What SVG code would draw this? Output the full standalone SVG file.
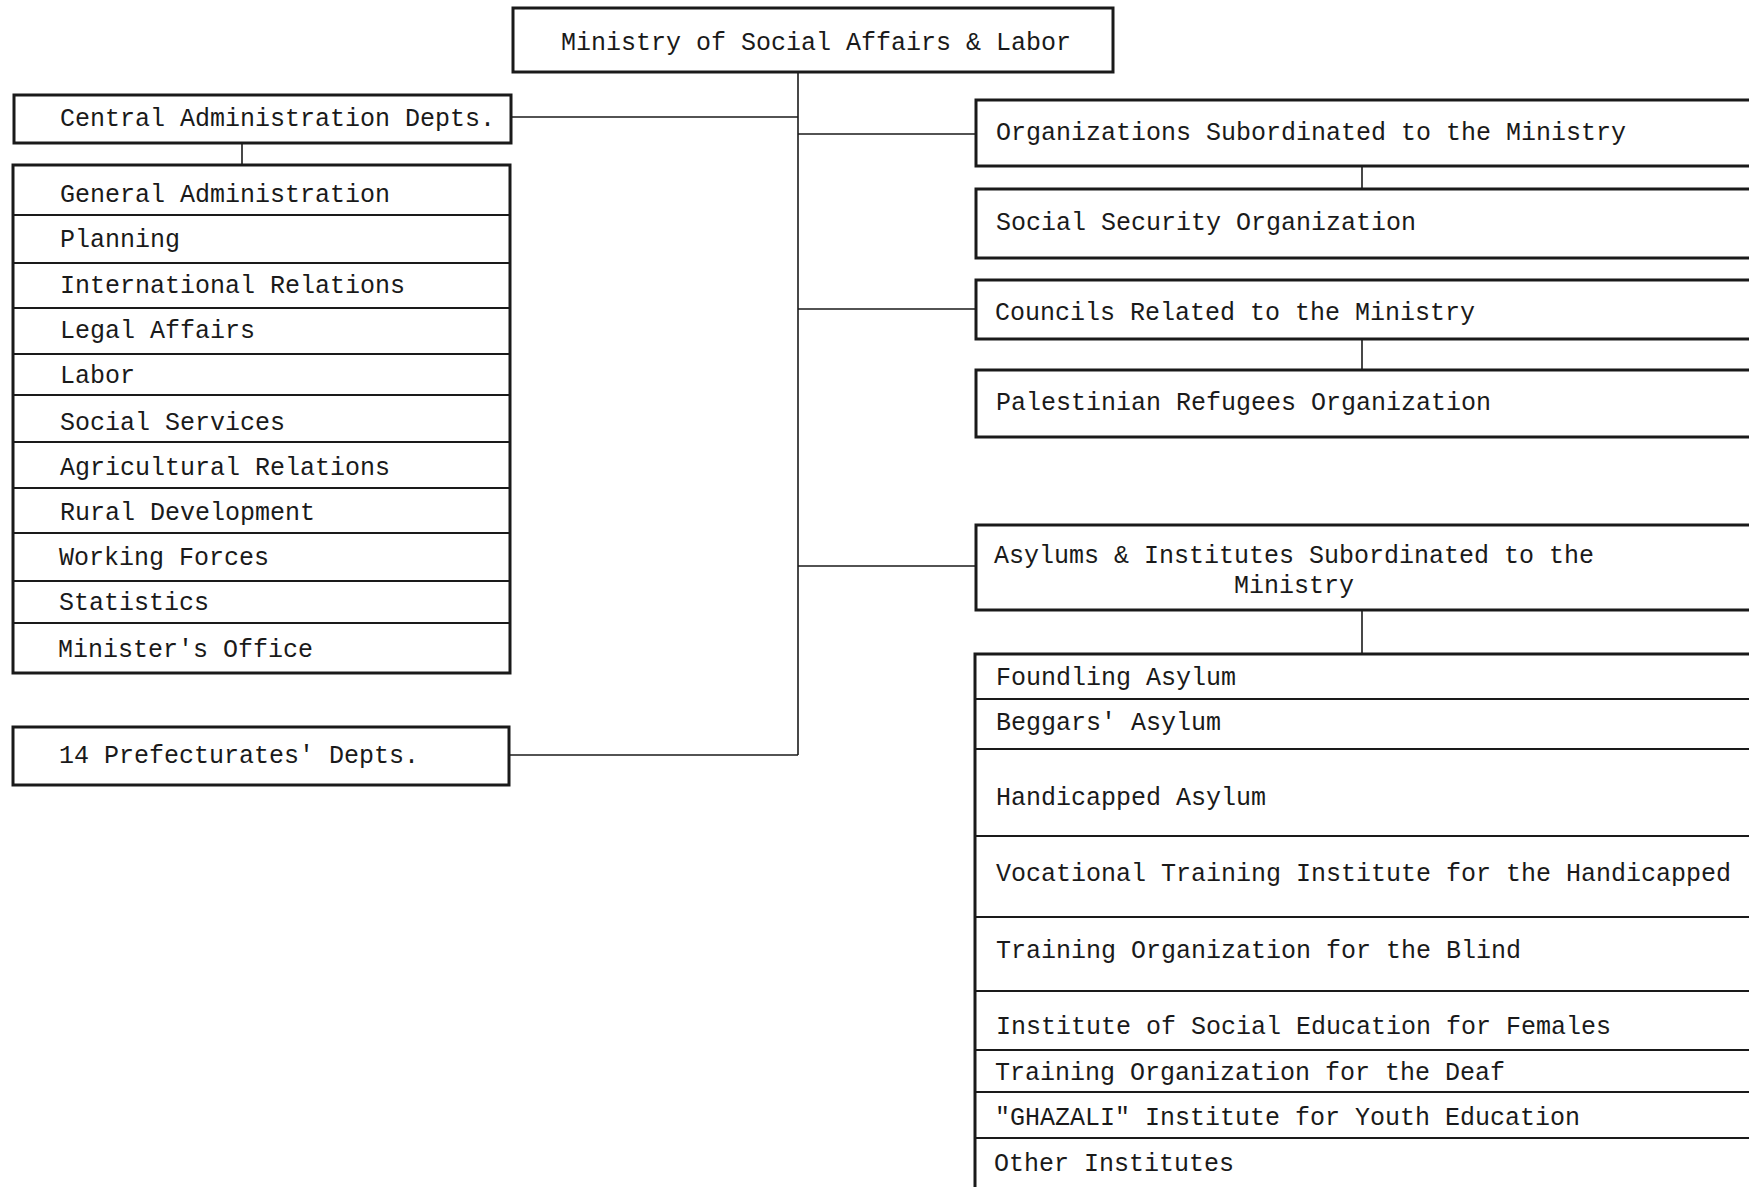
<svg xmlns="http://www.w3.org/2000/svg" width="1749" height="1187" viewBox="0 0 1749 1187">
<style>
.box{fill:#fff;stroke:#1a1a1a;stroke-width:3}
.div{stroke:#1a1a1a;stroke-width:2}
.con{stroke:#1a1a1a;stroke-width:1.6;fill:none}
text{font-family:"Liberation Mono","DejaVu Sans Mono",monospace;font-size:25px;fill:#1a1a1a}
</style>
<rect width="1749" height="1187" fill="#fff"/>
<g id="connectors">
<line class="con" x1="798" y1="72" x2="798" y2="755"/>
<line class="con" x1="511" y1="117" x2="798" y2="117"/>
<line class="con" x1="798" y1="134" x2="976" y2="134"/>
<line class="con" x1="798" y1="309" x2="976" y2="309"/>
<line class="con" x1="798" y1="566" x2="976" y2="566"/>
<line class="con" x1="509" y1="755" x2="798" y2="755"/>
<line class="con" x1="242" y1="143" x2="242" y2="165"/>
<line class="con" x1="1362" y1="166" x2="1362" y2="189"/>
<line class="con" x1="1362" y1="339" x2="1362" y2="370"/>
<line class="con" x1="1362" y1="610" x2="1362" y2="654"/>
</g>
<g id="ministry">
<rect class="box" x="513" y="8" width="600" height="64"/>
<text x="816" y="50" text-anchor="middle">Ministry of Social Affairs &amp; Labor</text>
</g>
<g id="central-admin">
<rect class="box" x="14" y="95" width="497" height="48"/>
<text x="60" y="126">Central Administration Depts.</text>
</g>
<g id="central-admin-list">
<rect class="box" x="13" y="165" width="497" height="508"/>
<g id="ca-general"><text x="60" y="202">General Administration</text></g>
<g id="ca-planning"><line class="div" x1="13" y1="215" x2="510" y2="215"/><text x="60" y="247">Planning</text></g>
<g id="ca-international"><line class="div" x1="13" y1="263" x2="510" y2="263"/><text x="60" y="293">International Relations</text></g>
<g id="ca-legal"><line class="div" x1="13" y1="308" x2="510" y2="308"/><text x="60" y="338">Legal Affairs</text></g>
<g id="ca-labor"><line class="div" x1="13" y1="354" x2="510" y2="354"/><text x="60" y="383">Labor</text></g>
<g id="ca-social"><line class="div" x1="13" y1="395" x2="510" y2="395"/><text x="60" y="430">Social Services</text></g>
<g id="ca-agri"><line class="div" x1="13" y1="442" x2="510" y2="442"/><text x="60" y="475">Agricultural Relations</text></g>
<g id="ca-rural"><line class="div" x1="13" y1="488" x2="510" y2="488"/><text x="60" y="520">Rural Development</text></g>
<g id="ca-working"><line class="div" x1="13" y1="533" x2="510" y2="533"/><text x="59" y="565">Working Forces</text></g>
<g id="ca-stats"><line class="div" x1="13" y1="581" x2="510" y2="581"/><text x="59" y="610">Statistics</text></g>
<g id="ca-minister"><line class="div" x1="13" y1="623" x2="510" y2="623"/><text x="58" y="657">Minister's Office</text></g>
</g>
<g id="prefecturates">
<rect class="box" x="13" y="727" width="496" height="58"/>
<text x="59" y="763">14 Prefecturates' Depts.</text>
</g>
<g id="org-subordinated">
<rect class="box" x="976" y="100" width="800" height="66"/>
<text x="996" y="140">Organizations Subordinated to the Ministry</text>
</g>
<g id="social-security">
<rect class="box" x="976" y="189" width="800" height="69"/>
<text x="996" y="230">Social Security Organization</text>
</g>
<g id="councils">
<rect class="box" x="976" y="280" width="800" height="59"/>
<text x="995" y="320">Councils Related to the Ministry</text>
</g>
<g id="palestinian">
<rect class="box" x="976" y="370" width="800" height="67"/>
<text x="996" y="410">Palestinian Refugees Organization</text>
</g>
<g id="asylums">
<rect class="box" x="976" y="525" width="800" height="85"/>
<text x="1294" y="563" text-anchor="middle">Asylums &amp; Institutes Subordinated to the</text>
<text x="1294" y="593" text-anchor="middle">Ministry</text>
</g>
<g id="asylums-list">
<rect class="box" x="975" y="654" width="800" height="560"/>
<g id="as-foundling"><text x="996" y="685">Foundling Asylum</text></g>
<g id="as-beggars"><line class="div" x1="975" y1="699" x2="1749" y2="699"/><text x="996" y="730">Beggars' Asylum</text></g>
<g id="as-handicapped"><line class="div" x1="975" y1="749" x2="1749" y2="749"/><text x="996" y="805">Handicapped Asylum</text></g>
<g id="as-vocational"><line class="div" x1="975" y1="836" x2="1749" y2="836"/><text x="996" y="881">Vocational Training Institute for the Handicapped</text></g>
<g id="as-blind"><line class="div" x1="975" y1="917" x2="1749" y2="917"/><text x="996" y="958">Training Organization for the Blind</text></g>
<g id="as-females"><line class="div" x1="975" y1="991" x2="1749" y2="991"/><text x="996" y="1034">Institute of Social Education for Females</text></g>
<g id="as-deaf"><line class="div" x1="975" y1="1050" x2="1749" y2="1050"/><text x="995" y="1080">Training Organization for the Deaf</text></g>
<g id="as-ghazali"><line class="div" x1="975" y1="1092" x2="1749" y2="1092"/><text x="995" y="1125">"GHAZALI" Institute for Youth Education</text></g>
<g id="as-other"><line class="div" x1="975" y1="1138" x2="1749" y2="1138"/><text x="994" y="1171">Other Institutes</text></g>
</g>
</svg>
